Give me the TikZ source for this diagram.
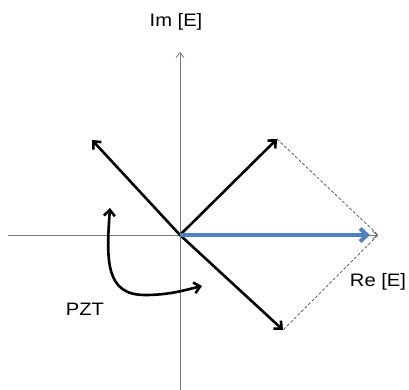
\documentclass[tikz,border=0pt]{standalone}
\usepackage{fontspec}
\setmainfont[FakeStretch=1.12]{Liberation Sans}
\usetikzlibrary{arrows.meta}
\definecolor{axisgray}{RGB}{120,120,120}
\definecolor{vecblue}{RGB}{79,129,189}
\begin{document}
\begin{tikzpicture}[x=1pt,y=-1pt,
  axis/.style={draw=axisgray,line width=0.8pt,-{Straight Barb[length=5pt,width=8pt]}},
  vec/.style={draw=black,line width=2.6pt,-{Straight Barb[length=6pt,width=11pt]}},
  bluevec/.style={draw=vecblue,line width=4pt,-{Straight Barb[length=7pt,width=13pt]}},
  guide/.style={draw=black!70,line width=0.7pt,dash pattern=on 3pt off 2pt},
  lbl/.style={font=\fontsize{18}{20}\selectfont,inner sep=0pt}]
\useasboundingbox (0,0) rectangle (409,390);
\coordinate (O) at (180,235);
\coordinate (xl) at (8,235);
\coordinate (xr) at (378,235);
\coordinate (yb) at (180,392);
\coordinate (yt) at (180,52);
\coordinate (ul) at (92,140);
\coordinate (ur) at (277,139);
\coordinate (lr) at (283,330);
\coordinate (bt) at (370,235);
\coordinate (cs) at (202,286);
\coordinate (ce) at (110,208);
\draw[axis] (xl) -- (xr);
\draw[axis] (yb) -- (yt);
\draw[guide] (ur) -- (xr) -- (lr);
\draw[vec] (O) -- (ul);
\draw[vec] (O) -- (ur);
\draw[vec] (O) -- (lr);
\draw[bluevec] (O) -- (bt);
\draw[black,line width=2.6pt,{Straight Barb[length=6pt,width=11pt]}-{Straight Barb[length=6pt,width=11pt]}]
  (ce) .. controls (106,262) and (106,295) .. (145,295) .. controls (170,295) and (185,290) .. (cs);
\node[lbl] (im) at (176,22) {Im [E]};
\node[lbl] (re) at (378,282) {Re [E]};
\node[lbl] (pzt) at (85,309) {PZT};
\end{tikzpicture}
\end{document}
